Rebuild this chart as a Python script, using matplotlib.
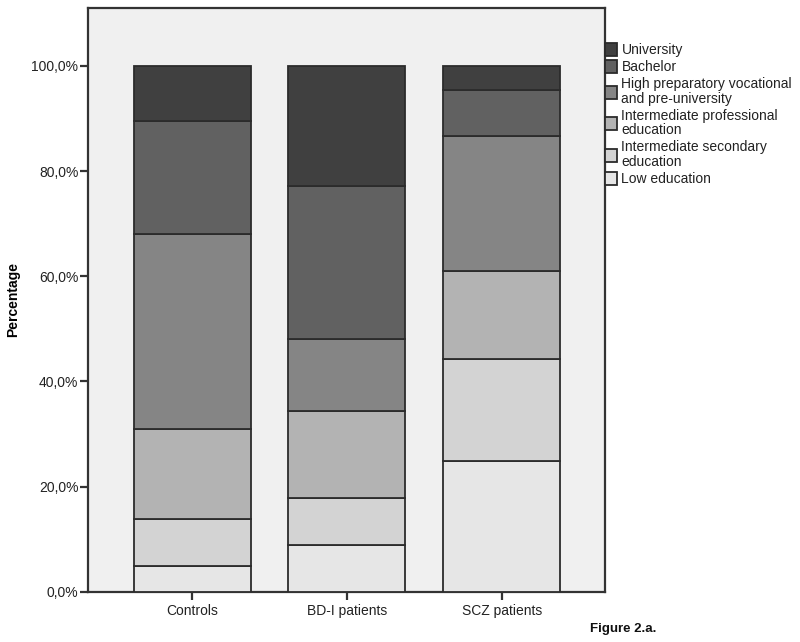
#!/usr/bin/env python3
"""
Stacked percentage bars of education level per group (Figure 2.a.).
"""

import numpy as np
import matplotlib
matplotlib.use("Agg")
import matplotlib.pyplot as plt
from matplotlib.ticker import FuncFormatter

groups = ["Controls", "BD-I patients", "SCZ patients"]

# stacking order: bottom to top
levels = [
    "Low education",
    "Intermediate secondary\neducation",
    "Intermediate professional\neducation",
    "High preparatory vocational\nand pre-university",
    "Bachelor",
    "University",
]

low_education = [4.8, 8.9, 24.9]
intermediate_secondary = [9.1, 8.9, 19.4]
intermediate_professional = [17.0, 16.6, 16.7]
high_preparatory = [37.2, 13.6, 25.6]
bachelor = [21.4, 29.1, 8.8]
university = [10.5, 22.9, 4.6]

colors = ["#e6e6e6", "#d3d3d3", "#b3b3b3", "#858585", "#616161", "#404040"]


def setup_plot_style() -> None:
    plt.rcParams['font.family'] = 'sans-serif'
    plt.rcParams['font.sans-serif'] = ['Liberation Sans', 'DejaVu Sans']
    plt.rcParams['text.color'] = '#222222'
    plt.rcParams['xtick.color'] = '#222222'
    plt.rcParams['ytick.color'] = '#222222'


def main() -> None:
    setup_plot_style()
    series = [low_education, intermediate_secondary, intermediate_professional,
              high_preparatory, bachelor, university]

    fig = plt.figure(figsize=(8.0, 6.42), dpi=100)
    ax = fig.add_axes([0.11, 0.0783, 0.646, 0.9092])
    ax.set_facecolor('#f0f0f0')

    x = np.arange(len(groups))
    bottom = np.zeros(len(groups))
    handles = []
    for label, vals, col in zip(levels, series, colors):
        bars = ax.bar(x, vals, bottom=bottom, width=0.756, color=col,
                      edgecolor='#2b2b2b', linewidth=1.3, label=label, zorder=3)
        handles.append(bars)
        bottom += np.array(vals)

    ax.set_xlim(-0.674, 2.667)
    ax.set_ylim(0, 111)
    ax.set_yticks([0, 20, 40, 60, 80, 100])
    ax.yaxis.set_major_formatter(FuncFormatter(lambda v, p: f"{v:.1f}%".replace('.', ',')))
    ax.set_xticks(x)
    ax.set_xticklabels(groups)
    ax.tick_params(axis='both', direction='out', length=6, width=1.6,
                   labelsize=10, color='#333333')
    ax.tick_params(axis='y', pad=1)
    ax.tick_params(axis='x', pad=3)

    for s in ax.spines.values():
        s.set_color('#333333')
        s.set_linewidth(1.6)

    ax.set_ylabel("Percentage", fontsize=10, fontweight='bold', labelpad=8)

    # legend: top item is University
    leg = fig.legend(handles[::-1], levels[::-1], loc='upper left',
                     bbox_to_anchor=(0.756, 0.933), frameon=False,
                     fontsize=10, handlelength=0.9, handleheight=1.05,
                     handletextpad=0.3, labelspacing=0.2, borderpad=0,
                     borderaxespad=0)
    for t in leg.get_texts():
        t.set_linespacing(1.08)

    fig.text(0.737, 0.016, "Figure 2.a.", fontsize=9.5, fontweight='bold',
             color='#111111')

    plt.savefig("out.png", dpi=100)
    plt.close()


if __name__ == "__main__":
    main()
